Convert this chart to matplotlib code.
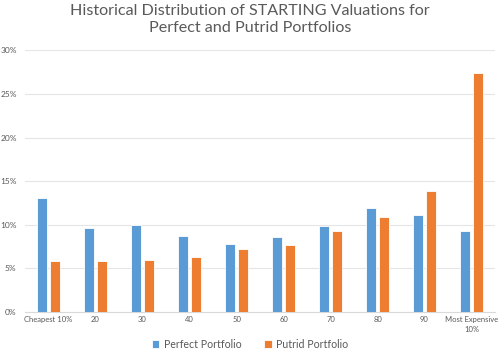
import numpy as np
import matplotlib
matplotlib.use('Agg')
import matplotlib.pyplot as plt
from matplotlib.ticker import FuncFormatter

categories = ['Cheapest 10%', '20', '30', '40', '50', '60', '70', '80', '90', 'Most Expensive\n10%']
perfect = [13.1, 9.6, 9.9, 8.7, 7.8, 8.6, 9.8, 11.9, 11.1, 9.3]
putrid = [5.8, 5.8, 5.9, 6.3, 7.2, 7.65, 9.25, 10.9, 13.9, 27.4]

blue = '#5B9BD5'
orange = '#ED7D31'
grey = '#595959'

plt.rcParams['font.family'] = ['Lato', 'DejaVu Sans']

fig = plt.figure(figsize=(5, 3.55), dpi=100)
ax = fig.add_axes([0.05, 0.122, 0.94, 0.736])

x = np.arange(len(categories))
w = 0.22
ax.bar(x - 0.14, perfect, w, color=blue, edgecolor='white', linewidth=0.6, label='Perfect Portfolio', zorder=3)
ax.bar(x + 0.14, putrid, w, color=orange, edgecolor='white', linewidth=0.6, label='Putrid Portfolio', zorder=3)

ax.set_xlim(-0.5, len(categories) - 0.5)
ax.set_ylim(0, 30)
ax.set_yticks(np.arange(0, 31, 5))
ax.yaxis.set_major_formatter(FuncFormatter(lambda v, p: '%d%%' % v))
ax.set_xticks(x)
ax.set_xticklabels(categories, fontsize=5.5, color=grey, linespacing=1.6)
ax.tick_params(axis='y', labelsize=6, colors=grey, length=0, pad=6)
ax.tick_params(axis='x', length=0, pad=3)
ax.grid(axis='y', color='#E5E5E5', linewidth=0.8, zorder=0)
for s in ['top', 'right', 'left']:
    ax.spines[s].set_visible(False)
ax.spines['bottom'].set_color('#D9D9D9')
ax.spines['bottom'].set_linewidth(0.8)

fig.text(0.5, 0.99, 'Historical Distribution of STARTING Valuations for\nPerfect and Putrid Portfolios',
         ha='center', va='top', fontsize=11.6, color=grey, linespacing=1.35)

fig.legend(loc='lower center', bbox_to_anchor=(0.5, -0.012), ncol=2, frameon=False,
           fontsize=7.6, handlelength=0.7, handleheight=0.7, columnspacing=2.2, handletextpad=0.4,
           labelcolor=grey)

fig.savefig('out.png', dpi=100)
